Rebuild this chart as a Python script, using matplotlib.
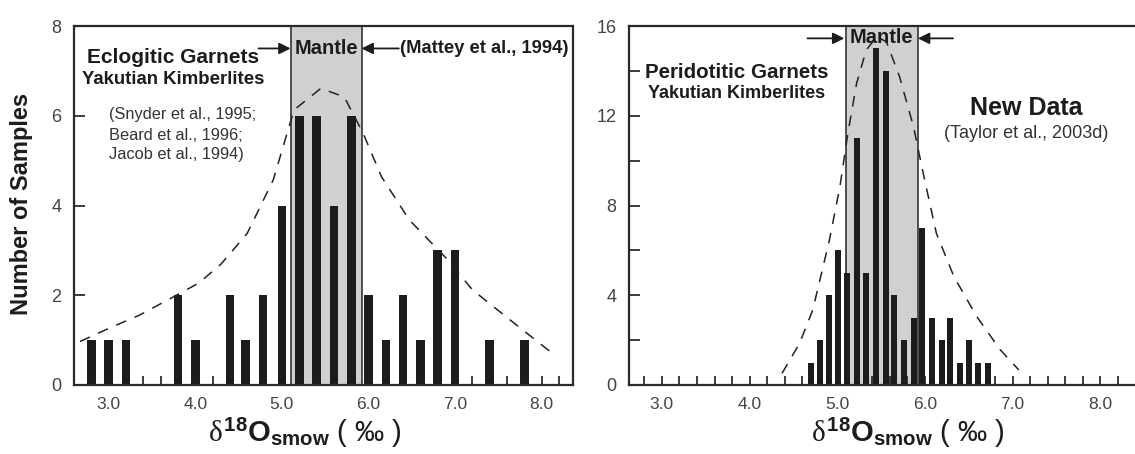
import matplotlib
matplotlib.use("Agg")
import matplotlib.pyplot as plt

plt.rcParams['font.family'] = ['Liberation Sans', 'DejaVu Sans']
plt.rcParams['mathtext.fontset'] = 'custom'
plt.rcParams['mathtext.rm'] = 'Liberation Sans'
plt.rcParams['mathtext.it'] = 'Liberation Serif'
plt.rcParams['mathtext.bf'] = 'Liberation Sans:bold'

# eclogitic garnets (left)
ecl_x = [2.8, 3.0, 3.2, 3.8, 4.0, 4.4, 4.58, 4.78, 5.0, 5.2, 5.4, 5.6, 5.8,
         6.0, 6.2, 6.4, 6.6, 6.8, 7.0, 7.4, 7.8]
ecl_n = [1, 1, 1, 2, 1, 2, 1, 2, 4, 6, 6, 4, 6, 2, 1, 2, 1, 3, 3, 1, 1]
ecl_curve_x = [2.67, 3.0, 3.36, 4.04, 4.3, 4.6, 4.9, 5.14, 5.45, 5.72, 5.94,
               6.15, 6.47, 6.9, 7.2, 7.66, 8.1]
ecl_curve_y = [0.97, 1.26, 1.56, 2.27, 2.7, 3.38, 4.57, 6.13, 6.61, 6.42, 5.6,
               4.64, 3.68, 2.82, 2.12, 1.41, 0.74]

# peridotitic garnets (right)
per_x = [4.7, 4.8, 4.9, 5.01, 5.11, 5.22, 5.33, 5.44, 5.55, 5.65, 5.76, 5.87,
         5.97, 6.08, 6.19, 6.29, 6.4, 6.5, 6.61, 6.72]
per_n = [1, 2, 4, 6, 5, 11, 5, 15, 14, 4, 2, 3, 7, 3, 2, 3, 1, 2, 1, 1]
per_curve_x = [4.37, 4.57, 4.72, 4.91, 5.03, 5.12, 5.22, 5.33, 5.45, 5.56,
               5.71, 5.87, 5.98, 6.13, 6.33, 6.59, 6.86, 7.07]
per_curve_y = [0.52, 1.86, 3.34, 6.46, 8.84, 11.2, 13.44, 14.93, 15.52, 15.3,
               13.74, 11.5, 9.43, 6.76, 4.83, 3.05, 1.56, 0.67]

mantle = (5.1, 5.92)
x_major = [3.0, 4.0, 5.0, 6.0, 7.0, 8.0]
x_minor = [2.8 + 0.2 * i for i in range(28)]

fig = plt.figure(figsize=(11.35, 4.54), dpi=100)
ax1 = fig.add_axes([0.0652, 0.152, 0.4396, 0.7907])
ax2 = fig.add_axes([0.5542, 0.152, 0.4462, 0.7907])

dark = '#1c1c1c'
tickc = '#444444'
xlab = r'$\delta^{\mathbf{18}}\mathbf{O}_{\mathbf{smow}}$ ( ‰ )'


def style(ax, ymax, yticks, xlim):
    ax.set_xlim(*xlim)
    ax.set_ylim(0, ymax)
    ax.axvspan(mantle[0], mantle[1], facecolor='#d0d0d0', edgecolor='#333333',
               lw=1.2, zorder=0)
    ax.set_xticks(x_minor, minor=True)
    ax.set_xticks(x_major)
    ax.set_xticklabels(['%.1f' % v for v in x_major])
    ax.set_yticks(yticks)
    ax.tick_params(axis='x', which='both', direction='in', length=6.5,
                   width=1.2, color=dark, pad=9, labelsize=12.5,
                   labelcolor=tickc)
    ax.tick_params(axis='y', direction='in', length=8, width=1.2, color=dark,
                   pad=9, labelsize=13, labelcolor=tickc)
    for s in ax.spines.values():
        s.set_linewidth(1.6)
        s.set_color('#2a2a2a')


style(ax1, 8, [0, 2, 4, 6, 8], (2.6, 8.36))
style(ax2, 16, [0, 4, 8, 12, 16], (2.625, 8.4))
ax2.set_yticks([2, 6, 10, 14], minor=True)
ax2.tick_params(axis='y', which='minor', direction='in', length=8, width=1.2,
                color=dark)
ax2.spines['right'].set_visible(False)

ax1.bar(ecl_x, ecl_n, width=0.1, color=dark, zorder=2)
ax1.plot(ecl_curve_x, ecl_curve_y, ls=(0, (7, 6)), color='#222222', lw=1.1,
         zorder=3)
ax2.bar(per_x, per_n, width=0.068, color=dark, zorder=2)
ax2.plot(per_curve_x, per_curve_y, ls=(0, (7, 6)), color='#222222', lw=1.1,
         zorder=3)

arrow = dict(arrowstyle='-|>', color=dark, lw=1.3, mutation_scale=17,
             shrinkA=0, shrinkB=0)

# left annotations
ax1.text(3.74, 7.29, 'Eclogitic Garnets', ha='center', va='center',
         fontsize=15, fontweight='bold', color=dark)
ax1.text(3.74, 6.8, 'Yakutian Kimberlites', ha='center', va='center',
         fontsize=13.4, fontweight='bold', color=dark)
for yy, t in zip([6.02, 5.57, 5.13],
                 ['(Snyder et al., 1995;', 'Beard et al., 1996;',
                  'Jacob et al., 1994)']):
    ax1.text(3.0, yy, t, ha='left', va='center', fontsize=11.8, color='#333333')
ax1.text(5.51, 7.5, 'Mantle', ha='center', va='center', fontsize=14.5,
         fontweight='bold', color=dark, zorder=5)
ax1.text(6.36, 7.5, '(Mattey et al., 1994)', ha='left', va='center',
         fontsize=13.2, fontweight='bold', color=dark)
ax1.annotate('', xy=(5.1, 7.5), xytext=(4.73, 7.5), arrowprops=arrow)
ax1.annotate('', xy=(5.92, 7.5), xytext=(6.35, 7.5), arrowprops=arrow)

# right annotations
ax2.text(3.85, 13.95, 'Peridotitic Garnets', ha='center', va='center',
         fontsize=14.8, fontweight='bold', color=dark)
ax2.text(3.85, 12.97, 'Yakutian Kimberlites', ha='center', va='center',
         fontsize=13, fontweight='bold', color=dark)
ax2.text(7.15, 12.35, 'New Data', ha='center', va='center', fontsize=18,
         fontweight='bold', color=dark)
ax2.text(7.15, 11.23, '(Taylor et al., 2003d)', ha='center', va='center',
         fontsize=13, color='#333333')
ax2.text(5.5, 15.5, 'Mantle', ha='center', va='center', fontsize=14.5,
         fontweight='bold', color=dark, zorder=5)
ax2.annotate('', xy=(5.08, 15.45), xytext=(4.66, 15.45), arrowprops=arrow)
ax2.annotate('', xy=(5.92, 15.45), xytext=(6.32, 15.45), arrowprops=arrow)

fig.text(0.019, 0.55, 'Number of Samples', rotation=90, ha='center',
         va='center', fontsize=17, fontweight='bold', color=dark)
fig.text(0.269, 0.045, xlab, ha='center', va='center', fontsize=21,
         color=dark)
fig.text(0.80, 0.045, xlab, ha='center', va='center', fontsize=21,
         color=dark)

fig.savefig('out.png', dpi=100)
